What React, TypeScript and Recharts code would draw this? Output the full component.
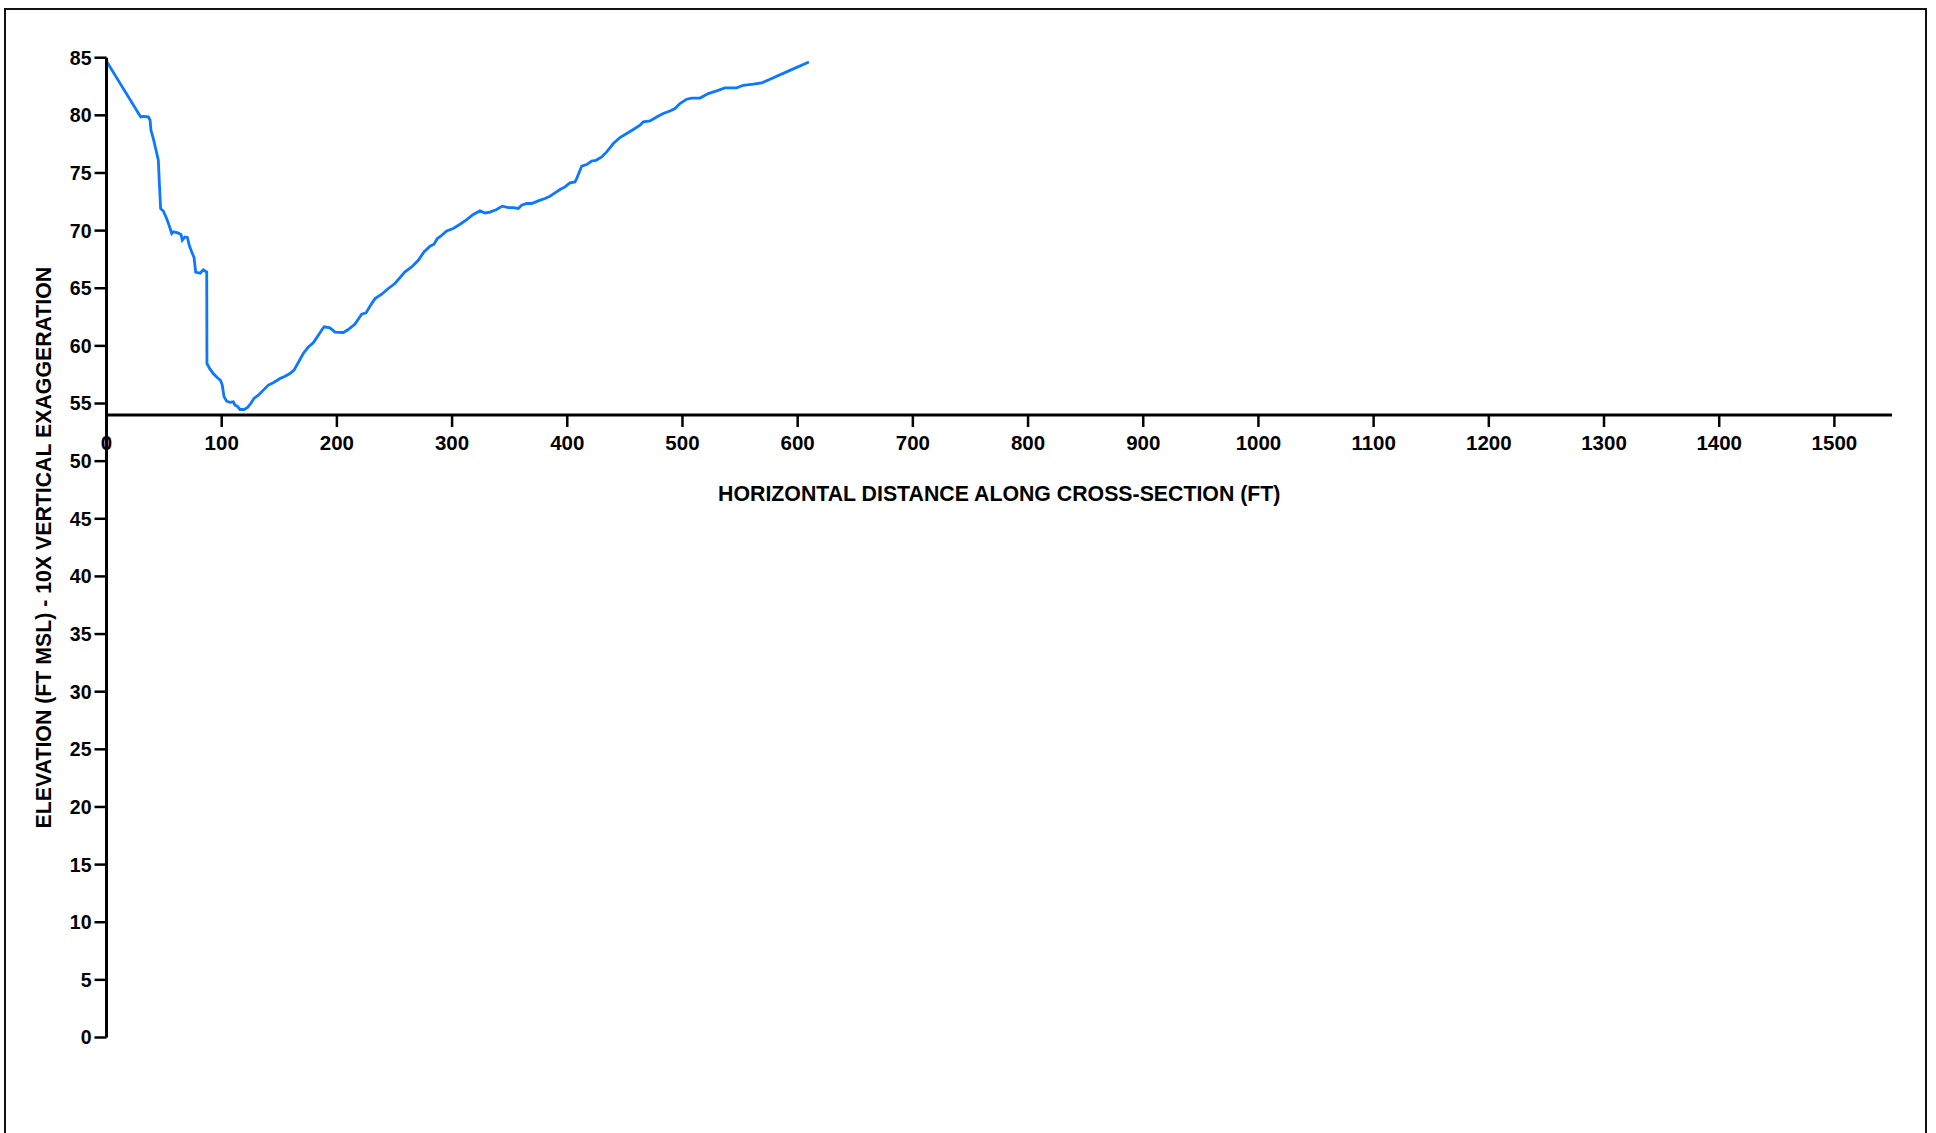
import React from 'react';
import { LineChart, Line, XAxis, YAxis, ReferenceLine } from 'recharts';

// Ground profile along the cross-section: distance (ft) and elevation (ft MSL)
const DIST = [
  0, 29.7, 32, 36.3, 37.8, 38.6, 40.6, 42.7, 45, 45.9, 47, 49.3, 52.2, 54.2, 56.6, 58, 61.8, 64.7, 65.8, 68.1,
  70.2, 71.9, 74, 76, 77.4, 81.2, 84, 87, 87.2, 89.8, 92.7, 95.6, 99.1, 100.5, 102, 104.3, 107.2, 110.1, 111.5,
  113.5, 115.9, 119.4, 122.5, 125.2, 128, 131.8, 136.1, 140.5, 144.8, 150.6, 155, 159.3, 162.8, 166.5, 170.8,
  175.2, 179.5, 183.9, 187.7, 189.1, 194, 198.4, 205.6, 209.9, 215.7, 221.5, 225.3, 228.7, 233.1, 238.9, 244.6,
  250.4, 259.1, 264.9, 270.7, 275.6, 280.8, 284.3, 287.2, 290.1, 295.3, 301, 306.9, 312.7, 318.4, 324.2, 328.6,
  332.9, 338.7, 343.6, 348.8, 353.1, 357.5, 360.4, 364.8, 369.1, 374.8, 380.6, 385, 389.3, 393.7, 398, 402.3,
  406.7, 408.2, 412.5, 416.8, 421.2, 424.9, 429.9, 434.2, 440, 445.7, 451.6, 457.3, 463.1, 466, 471.8, 477.6,
  483.3, 489.1, 493.5, 497.8, 503.6, 508, 515.2, 522.4, 529.7, 536.9, 547, 552.8, 561.5, 568.8, 576, 593.3, 609.8,
];

const ELEV = [
  84.7, 79.86, 79.9, 79.86, 79.6, 78.7, 78.0, 77.1, 76.1, 74.1, 71.9, 71.7, 71.05, 70.5, 69.75, 69.9, 69.8, 69.66,
  69.17, 69.45, 69.4, 68.7, 68.15, 67.67, 66.4, 66.3, 66.6, 66.4, 58.47, 58.0, 57.6, 57.3, 57.0, 56.6, 55.6, 55.2,
  55.1, 55.15, 54.86, 54.77, 54.48, 54.48, 54.66, 55.0, 55.44, 55.72, 56.16, 56.6, 56.8, 57.17, 57.37, 57.6, 57.9,
  58.56, 59.34, 59.9, 60.26, 60.93, 61.5, 61.65, 61.56, 61.2, 61.16, 61.42, 61.9, 62.75, 62.86, 63.44, 64.1, 64.48,
  64.98, 65.41, 66.42, 66.85, 67.43, 68.15, 68.65, 68.82, 69.31, 69.51, 69.97, 70.18, 70.55, 70.96, 71.4, 71.71,
  71.53, 71.6, 71.83, 72.12, 72.0, 72.0, 71.92, 72.2, 72.35, 72.35, 72.58, 72.78, 72.98, 73.27, 73.56, 73.79,
  74.14, 74.22, 74.52, 75.59, 75.73, 76.04, 76.1, 76.39, 76.83, 77.55, 78.07, 78.42, 78.77, 79.14, 79.43, 79.52,
  79.86, 80.16, 80.38, 80.59, 81.02, 81.4, 81.5, 81.5, 81.89, 82.12, 82.38, 82.38, 82.61, 82.7, 82.81, 83.13,
  83.9, 84.63,
];

const X_TICKS = [0, 100, 200, 300, 400, 500, 600, 700, 800, 900, 1000, 1100, 1200, 1300, 1400, 1500];
const Y_TICKS = [0, 5, 10, 15, 20, 25, 30, 35, 40, 45, 50, 55, 60, 65, 70, 75, 80, 85];

const X_DOMAIN: [number, number] = [0, 1550];
const Y_DOMAIN: [number, number] = [0, 85];
const X_AXIS_ELEV = 54; // horizontal axis crosses the elevation scale here

const X_TITLE = 'HORIZONTAL DISTANCE ALONG CROSS-SECTION (FT)';
const Y_TITLE = 'ELEVATION (FT MSL) - 10X VERTICAL EXAGGERATION';

const rows = DIST.slice(0, Math.min(DIST.length, ELEV.length)).map((d, i) => ({ dist: d, elev: ELEV[i] }));

const W = 1936;
const H = 1133;
const MARGIN = { top: 57.7, right: 44, bottom: 75.5, left: 0 };
const X_AXIS_HEIGHT = 20;
const Y_AXIS_WIDTH = 106.5;
const PLOT_TOP = MARGIN.top;
const PLOT_BOTTOM = H - MARGIN.bottom - X_AXIS_HEIGHT;
const AXIS_Y =
  PLOT_TOP + ((PLOT_BOTTOM - PLOT_TOP) * (Y_DOMAIN[1] - X_AXIS_ELEV)) / (Y_DOMAIN[1] - Y_DOMAIN[0]);

const FONT = "Arial, 'Liberation Sans', Helvetica, sans-serif";
const LINE_BLUE = '#0a78ff';
const TITLE_SIZE = 21.3;

// Tick mark and label drawn on the raised horizontal axis
const DistanceTick = (props: any) => {
  const { x, payload } = props;
  return (
    <g>
      <line x1={x} x2={x} y1={AXIS_Y} y2={AXIS_Y + 12} stroke="#000" strokeWidth={2.5} />
      <text
        x={x}
        y={AXIS_Y + 35}
        textAnchor="middle"
        fontFamily={FONT}
        fontWeight="bold"
        fontSize={20.5}
        fill="#000"
      >
        {payload.value}
      </text>
    </g>
  );
};

const XTitle = (props: any) => {
  const vb = props.viewBox || {};
  return (
    <text
      x={vb.x + vb.width / 2}
      y={vb.y + 85.5}
      textAnchor="middle"
      fontFamily={FONT}
      fontWeight="bold"
      fontSize={TITLE_SIZE}
      fill="#000"
    >
      {X_TITLE}
    </text>
  );
};

const YTitle = () => {
  const cx = 44.5;
  const cy = (PLOT_TOP + PLOT_BOTTOM) / 2;
  return (
    <text
      x={cx}
      y={cy}
      transform={`rotate(-90 ${cx} ${cy})`}
      textAnchor="middle"
      dominantBaseline="central"
      fontFamily={FONT}
      fontWeight="bold"
      fontSize={TITLE_SIZE}
      fill="#000"
    >
      {Y_TITLE}
    </text>
  );
};

export default function App() {
  return (
    <div
      style={{
        position: 'absolute',
        left: 0,
        top: 0,
        width: W,
        height: H,
        overflow: 'hidden',
        background: '#fff',
      }}
    >
      <div
        style={{
          position: 'absolute',
          left: 4,
          top: 8,
          width: 1919,
          height: 1300,
          border: '2px solid #111',
        }}
      />
      <div style={{ position: 'absolute', left: 0, top: 0 }}>
        <LineChart width={W} height={H} data={rows} margin={MARGIN}>
          <XAxis
            dataKey="dist"
            type="number"
            domain={X_DOMAIN}
            ticks={X_TICKS}
            interval={0}
            allowDataOverflow
            height={X_AXIS_HEIGHT}
            axisLine={false}
            tickLine={false}
            tick={<DistanceTick />}
          />
          <YAxis
            dataKey="elev"
            type="number"
            domain={Y_DOMAIN}
            ticks={Y_TICKS}
            interval={0}
            allowDataOverflow
            width={Y_AXIS_WIDTH}
            axisLine={{ stroke: '#000', strokeWidth: 3 }}
            tickLine={{ stroke: '#000', strokeWidth: 2.5 }}
            tickSize={12}
            tickMargin={3}
            tick={{ fill: '#000', fontSize: 19.5, fontWeight: 'bold', fontFamily: FONT }}
            label={<YTitle />}
          />
          <ReferenceLine y={X_AXIS_ELEV} stroke="#000" strokeWidth={3} label={<XTitle />} />
          <Line
            type="linear"
            dataKey="elev"
            stroke={LINE_BLUE}
            strokeWidth={2.8}
            dot={false}
            activeDot={false}
            isAnimationActive={false}
          />
        </LineChart>
      </div>
    </div>
  );
}
